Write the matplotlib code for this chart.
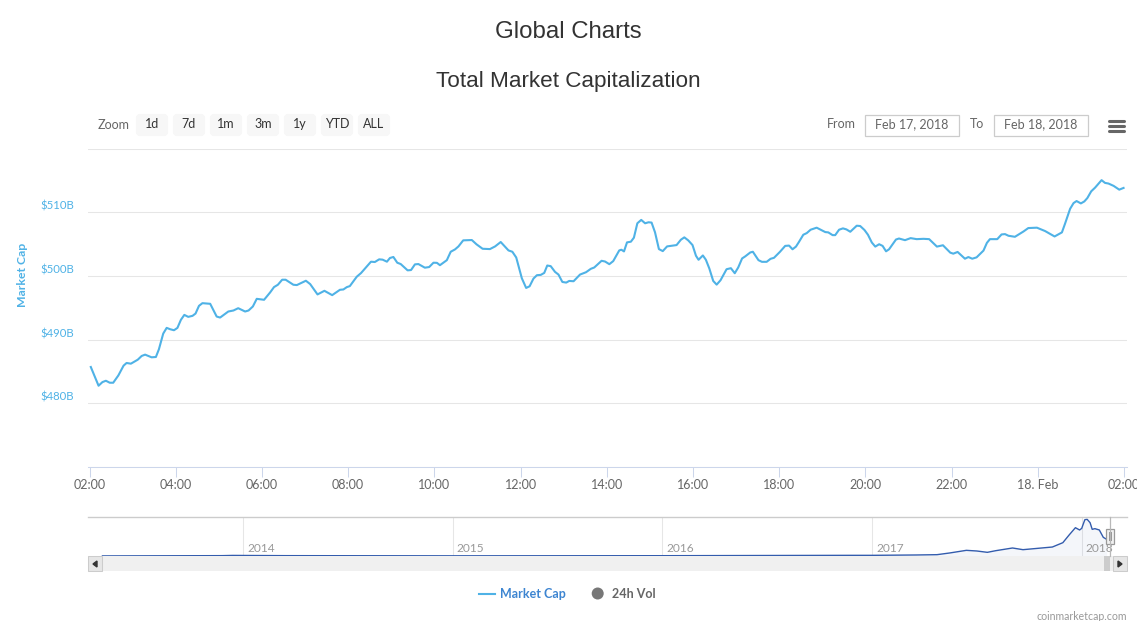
"""Total market cap chart, coinmarketcap style (Feb 17-18, 2018)."""

import matplotlib
matplotlib.use("Agg")
import matplotlib.pyplot as plt
from matplotlib.patches import Circle, FancyBboxPatch, Rectangle

W, H = 1137, 621
BLUE = "#4fb2e6"
GRID = "#e6e6e6"
AXIS = "#ccd6eb"
NAV_BLUE = "#335cad"

# hours since 02:00 on Feb 17
hours = [
    0.03, 0.21, 0.30, 0.38, 0.47, 0.55, 0.67, 0.79, 0.86, 0.96, 1.12, 1.21, 1.29, 1.44, 1.54, 1.61,
    1.71, 1.79, 1.87, 1.96, 2.04, 2.12, 2.20, 2.29, 2.39, 2.46, 2.54, 2.62, 2.80, 2.95, 3.03, 3.22,
    3.34, 3.45, 3.61, 3.69, 3.79, 3.88, 4.05, 4.19, 4.28, 4.37, 4.47, 4.55, 4.73, 4.81, 5.02, 5.12,
    5.29, 5.45, 5.63, 5.81, 5.89, 5.97, 6.04, 6.20, 6.30, 6.53, 6.62, 6.72, 6.80, 6.90, 6.97, 7.05,
    7.14, 7.22, 7.38, 7.46, 7.55, 7.63, 7.78, 7.88, 7.98, 8.06, 8.13, 8.29, 8.38, 8.48, 8.56, 8.67,
    8.87, 8.98, 9.12, 9.29, 9.41, 9.54, 9.62, 9.72, 9.81, 9.90, 10.03, 10.13, 10.21, 10.30, 10.38, 10.47,
    10.55, 10.62, 10.70, 10.80, 10.88, 10.97, 11.06, 11.13, 11.23, 11.38, 11.52, 11.63, 11.71, 11.88, 11.96, 12.06,
    12.15, 12.29, 12.34, 12.40, 12.47, 12.56, 12.63, 12.71, 12.80, 12.89, 12.97, 13.04, 13.12, 13.21, 13.30, 13.40,
    13.51, 13.62, 13.72, 13.80, 13.89, 13.99, 14.07, 14.13, 14.23, 14.30, 14.38, 14.47, 14.55, 14.64, 14.78, 14.88,
    14.97, 15.05, 15.14, 15.21, 15.33, 15.39, 15.52, 15.60, 15.71, 15.80, 15.88, 16.02, 16.14, 16.23, 16.31, 16.39,
    16.46, 16.56, 16.64, 16.73, 16.87, 16.95, 17.07, 17.14, 17.24, 17.30, 17.39, 17.48, 17.56, 17.65, 17.80, 17.88,
    17.98, 18.06, 18.15, 18.23, 18.32, 18.40, 18.48, 18.55, 18.71, 18.78, 18.92, 19.05, 19.19, 19.35, 19.48, 19.58,
    19.66, 19.80, 19.97, 20.04, 20.14, 20.31, 20.39, 20.48, 20.58, 20.74, 20.82, 20.89, 21.06, 21.16, 21.24, 21.32,
    21.47, 21.67, 21.78, 21.98, 22.17, 22.39, 22.56, 22.63, 22.75, 22.83, 22.90, 23.00, 23.08, 23.15, 23.24, 23.33,
    23.48, 23.56, 23.64, 23.76, 23.89, 23.99,
]
# total market cap, $ billions
market_cap = [
    485.70, 482.76, 483.33, 483.54, 483.23, 483.23, 484.38, 485.91, 486.33, 486.22, 486.85, 487.43, 487.64, 487.22, 487.27, 488.48,
    490.94, 491.84, 491.63, 491.47, 491.84, 493.10, 493.88, 493.57, 493.73, 494.09, 495.30, 495.72, 495.62, 493.62, 493.46, 494.41,
    494.57, 494.93, 494.41, 494.57, 495.20, 496.40, 496.25, 497.40, 498.24, 498.61, 499.40, 499.40, 498.61, 498.56, 499.24, 498.71,
    497.09, 497.66, 496.98, 497.82, 497.87, 498.24, 498.40, 499.87, 500.45, 502.23, 502.18, 502.60, 502.55, 502.23, 502.81, 502.97,
    502.07, 501.86, 500.87, 500.92, 501.81, 501.86, 501.29, 501.39, 502.07, 502.05, 501.68, 502.47, 503.79, 504.16, 504.63, 505.58,
    505.63, 504.95, 504.26, 504.21, 504.63, 505.32, 504.74, 504.00, 503.79, 502.89, 499.63, 498.11, 498.37, 499.58, 500.11, 500.16,
    500.47, 501.63, 501.53, 500.63, 500.21, 499.05, 498.95, 499.21, 499.16, 500.21, 500.58, 501.11, 501.32, 502.37, 502.26, 501.84,
    502.32, 504.00, 504.11, 503.84, 505.26, 505.37, 506.00, 508.26, 508.79, 508.26, 508.42, 508.37, 506.84, 504.21, 503.89, 504.63,
    504.74, 504.84, 505.68, 506.05, 505.58, 504.84, 503.16, 502.53, 503.21, 502.53, 501.16, 499.21, 498.63, 499.32, 501.05, 501.21,
    500.42, 501.32, 502.74, 503.05, 503.68, 503.79, 502.47, 502.21, 502.21, 502.68, 502.84, 503.79, 504.71, 504.76, 504.18, 504.60,
    505.34, 506.46, 506.72, 507.25, 507.57, 507.30, 506.88, 506.83, 506.40, 506.40, 507.25, 507.46, 507.30, 506.93, 507.88, 507.83,
    507.20, 506.46, 505.24, 504.60, 504.97, 504.71, 503.86, 504.18, 505.71, 505.87, 505.61, 505.93, 505.77, 505.82, 505.77, 505.13,
    504.60, 504.81, 503.65, 503.49, 503.76, 502.70, 502.96, 502.70, 502.91, 503.97, 505.19, 505.77, 505.77, 506.51, 506.56, 506.30,
    506.14, 506.98, 507.51, 507.57, 507.04, 506.19, 506.83, 508.15, 510.53, 511.43, 511.75, 511.38, 511.69, 512.22, 513.28, 513.86,
    515.03, 514.60, 514.50, 514.13, 513.54, 513.81,
]

# navigator series: all-time history, in decimal years and $ billions
nav_years = [
    2013.33, 2013.90, 2013.95, 2014.00, 2014.20, 2015.00, 2016.00, 2016.90, 2017.00, 2017.21, 2017.31, 2017.37, 2017.45,
    2017.50, 2017.55, 2017.59, 2017.67, 2017.72, 2017.79, 2017.86, 2017.91, 2017.94, 2017.97, 2017.99, 2018.00, 2018.015,
    2018.026, 2018.04, 2018.05, 2018.063, 2018.084, 2018.103, 2018.119,
]
nav_cap = [
    2, 8, 13, 12, 8, 4, 7, 15, 15, 23, 30, 68, 128, 113, 83, 120, 181, 143, 173, 203, 301, 475, 640, 588, 625, 821, 829,
    753, 603, 618, 588, 422, 377,
]

x_ticks = [0, 2, 4, 6, 8, 10, 12, 14, 16, 18, 20, 22, 24]
x_labels = ["02:00", "04:00", "06:00", "08:00", "10:00", "12:00", "14:00", "16:00", "18:00", "20:00", "22:00",
            "18. Feb", "02:00"]
y_ticks = [470, 480, 490, 500, 510, 520]
y_labels = {480: "$480B", 490: "$490B", 500: "$500B", 510: "$510B"}
nav_year_ticks = [2014, 2015, 2016, 2017, 2018]
zoom_buttons = ["1d", "7d", "1m", "3m", "1y", "YTD", "ALL"]

plt.rcParams["font.family"] = ["Lato", "DejaVu Sans"]


def px_axes(fig, left, top, right, bottom, **kw):
    """Axes placed with pixel edges, y counted from the top of the picture."""
    return fig.add_axes([left / W, 1 - bottom / H, (right - left) / W, (bottom - top) / H], **kw)


fig = plt.figure(figsize=(W / 100, H / 100), dpi=100, facecolor="white")

# main chart
ax = px_axes(fig, 88, 148.5, 1127, 467)
ax.plot(hours, market_cap, color=BLUE, lw=1.5, solid_joinstyle="round", zorder=3)
ax.set_xlim(-0.035, 24.07)
ax.set_ylim(470, 520)
ax.set_yticks(y_ticks)
ax.set_yticklabels([])
ax.tick_params(axis="y", length=0)
ax.grid(axis="y", color=GRID, lw=0.75)
ax.set_axisbelow(True)
ax.set_xticks(x_ticks)
ax.set_xticklabels(x_labels, fontsize=9, color="#666666")
ax.tick_params(axis="x", length=7.2, width=0.75, color=AXIS, pad=1.5)
for name in ["top", "left", "right"]:
    ax.spines[name].set_visible(False)
ax.spines["bottom"].set_color(AXIS)
ax.spines["bottom"].set_linewidth(0.75)
for val, lab in y_labels.items():
    ax.annotate(lab, xy=(0, val), xycoords=ax.get_yaxis_transform(), xytext=(-14, 6),
                textcoords="offset pixels", ha="right", va="center", fontsize=8.2, color=BLUE)

# navigator
nav = px_axes(fig, 88, 516.5, 1127, 556)
nav.fill_between(nav_years, nav_cap, color=NAV_BLUE, alpha=0.05, lw=0)
nav.plot(nav_years, nav_cap, color=NAV_BLUE, lw=1.0)
nav.set_xlim(2013.261, 2018.216)
nav.set_ylim(0, 893)
nav.set_xticks([])
nav.set_yticks([])
for name in ["bottom", "left", "right"]:
    nav.spines[name].set_visible(False)
nav.spines["top"].set_color("#cccccc")
nav.spines["top"].set_linewidth(1.0)
for yr in nav_year_ticks:
    nav.axvline(yr, color=GRID, lw=0.75, zorder=0)
    nav.annotate(str(yr), xy=(yr, 0), xytext=(4, 8), textcoords="offset pixels", ha="left", va="center",
                 fontsize=8.6, color="#999999")

# page furniture in pixel coordinates
ui = fig.add_axes([0, 0, 1, 1], zorder=5)
ui.set_xlim(0, W)
ui.set_ylim(H, 0)
ui.axis("off")

ui.text(568, 32, "Global Charts", ha="center", va="center", fontsize=17.3, color="#333333", family="Liberation Sans")
ui.text(568, 82, "Total Market Capitalization", ha="center", va="center", fontsize=16.2, color="#333333",
        family="Liberation Sans")
ui.text(22, 275, "Market Cap", rotation=90, ha="center", va="center", fontsize=8.8, fontweight="bold", color=BLUE)

ui.text(98, 125, "Zoom", ha="left", va="center", fontsize=9, color="#666666")
for i, lab in enumerate(zoom_buttons):
    left = 136 + 37 * i
    ui.add_patch(FancyBboxPatch((left + 2, 116), 28, 18, boxstyle="round,pad=0,rounding_size=2", mutation_scale=1,
                                fc="#f7f7f7", ec="#f7f7f7", lw=3))
    ui.text(left + 16, 124, lab, ha="center", va="center", fontsize=9, color="#333333")

ui.text(827, 124, "From", ha="left", va="center", fontsize=9, color="#666666")
ui.text(970, 124, "To", ha="left", va="center", fontsize=9, color="#666666")
for left, lab in [(864.5, "Feb 17, 2018"), (993.5, "Feb 18, 2018")]:
    ui.add_patch(Rectangle((left, 114.5), 94, 21, fc="white", ec="#cccccc", lw=0.9))
    ui.text(left + 47, 124, lab, ha="center", va="center", fontsize=9, color="#666666")
for y in [120.5, 125.5, 130.5]:
    ui.plot([1108.5, 1123.5], [y, y], color="#666666", lw=2.2, solid_capstyle="round")

# scrollbar under the navigator
ui.add_patch(Rectangle((88, 556), 1039, 15, fc="#f0f0f0", ec="none"))
ui.add_patch(Rectangle((88, 556), 14, 14.5, fc="#e6e6e6", ec="#cccccc", lw=0.75))
ui.add_patch(Rectangle((1113, 556), 14, 14.5, fc="#e6e6e6", ec="#cccccc", lw=0.75))
ui.add_patch(Rectangle((1104, 556), 6, 15, fc="#cccccc", ec="none"))
ui.fill([97, 97, 93], [561, 567, 564], color="#333333")
ui.fill([1118, 1118, 1122], [561, 567, 564], color="#333333")

# navigator handle
ui.plot([1109.5, 1109.5], [516.5, 556], color="#b8b8b8", lw=0.9)
ui.add_patch(Rectangle((1105.5, 528.5), 8, 15, fc="#f2f2f2", ec="#999999", lw=0.9))
ui.plot([1108.5, 1108.5], [532, 540], color="#999999", lw=0.75)
ui.plot([1110.5, 1110.5], [532, 540], color="#999999", lw=0.75)

# legend
ui.plot([479, 495], [593.5, 593.5], color=BLUE, lw=1.5)
ui.text(500.5, 593.5, "Market Cap", ha="left", va="center", fontsize=9, fontweight="bold", color="#3d85d1")
ui.add_patch(Circle((597.7, 593.5), 6, fc="#777777", ec="none"))
ui.text(611.5, 593.5, "24h Vol", ha="left", va="center", fontsize=9, fontweight="bold", color="#666666")

ui.text(1127, 616, "coinmarketcap.com", ha="right", va="center", fontsize=7.6, color="#999999")

fig.savefig("out.png", dpi=100)
